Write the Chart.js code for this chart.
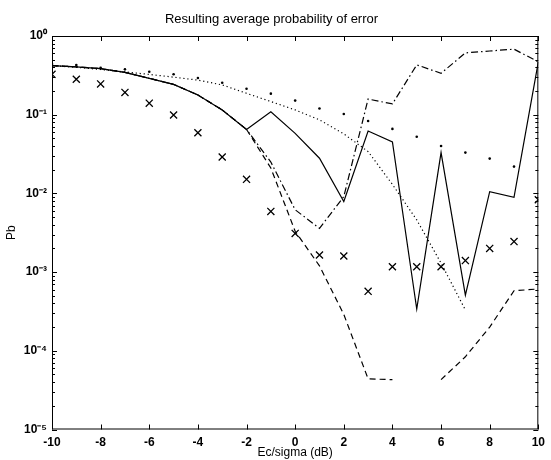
<!DOCTYPE html>
<html><head><meta charset="utf-8">
<script src="https://cdn.jsdelivr.net/npm/chart.js@4.4.0/dist/chart.umd.min.js"></script>
<style>html,body{margin:0;padding:0;background:#fff}</style>
</head><body>
<canvas id="c" width="551" height="460"></canvas>
<script>
// ---- data ----
const xValues = [-10,-9,-8,-7,-6,-5,-4,-3,-2,-1,0,1,2,3,4,5,6,7,8,9,10];
const solidSeries = [0.42,0.405,0.385,0.345,0.29,0.243,0.178,0.115,0.065,0.109,0.058,0.028,0.0079,0.062,0.045,3.4e-4,0.033,5.1e-4,0.0105,0.0089,0.47];
const dashedSeries = [0.42,0.405,0.385,0.345,0.29,0.243,0.178,0.115,0.065,0.021,0.0033,0.0012,2.9e-4,4.4e-5,4.3e-5,null,4.3e-5,8.4e-5,2.0e-4,5.8e-4,6.1e-4];
const dashDotSeries = [0.42,0.405,0.385,0.345,0.29,0.243,0.178,0.115,0.065,0.025,0.0062,0.0036,0.0091,0.158,0.137,0.43,0.336,0.61,0.645,0.68,0.47];
const dottedSeries = [0.42,0.40,0.375,0.35,0.325,0.30,0.275,0.239,0.187,0.147,0.115,0.086,0.057,0.034,0.013,0.0046,0.0013,3.3e-4,null,null,null];
const dotMarkers = [0.44,0.428,0.395,0.377,0.352,0.326,0.292,0.255,0.214,0.185,0.151,0.12,0.102,0.083,0.066,0.0525,0.040,0.033,0.0277,0.0219,null];
const crossMarkers = [0.326,0.282,0.246,0.192,0.14,0.099,0.059,0.029,0.0151,0.0059,0.0031,0.00165,0.0016,5.7e-4,0.00117,0.00117,0.00117,0.0014,0.002,0.00244,0.0083];
const xTickValues = [-10,-8,-6,-4,-2,0,2,4,6,8,10];
const yTickValues = [1e-5,1e-4,1e-3,1e-2,1e-1,1];
const yTickLabels = ['10\u207B\u2075','10\u207B\u2074','10\u207B\u00B3','10\u207B\u00B2','10\u207B\u00B9','10\u2070'];
const titleText = 'Resulting average probability of error';
const xTitle = 'Ec/sigma (dB)';
const yTitle = 'Pb';

const pts = arr => xValues.map((x,i) => ({x, y: arr[i]}));

const framePlugin = {
  id: 'frame',
  afterDatasetsDraw(chart) {
    const {ctx, chartArea: a, scales: {x, y}} = chart;
    ctx.save();
    ctx.strokeStyle = '#000';
    ctx.lineWidth = 1;
    ctx.strokeRect(a.left + 0.5, a.top + 0.5, a.right - a.left - 1, a.bottom - a.top - 1);
    ctx.beginPath();
    xTickValues.forEach(v => {
      const p = Math.round(x.getPixelForValue(v)) + 0.5;
      ctx.moveTo(p, a.bottom); ctx.lineTo(p, a.bottom - 5);
      ctx.moveTo(p, a.top); ctx.lineTo(p, a.top + 5);
    });
    yTickValues.forEach((v, k) => {
      const p = Math.round(y.getPixelForValue(v)) + 0.5;
      ctx.moveTo(a.left, p); ctx.lineTo(a.left + 5, p);
      ctx.moveTo(a.right, p); ctx.lineTo(a.right - 5, p);
      if (k < yTickValues.length - 1) {
        for (let m = 2; m <= 9; m++) {
          const q = Math.round(y.getPixelForValue(v * m)) + 0.5;
          ctx.moveTo(a.left, q); ctx.lineTo(a.left + 3, q);
          ctx.moveTo(a.right, q); ctx.lineTo(a.right - 3, q);
        }
      }
    });
    ctx.stroke();
    ctx.restore();
  }
};

const lineBase = {borderColor: '#000', backgroundColor: '#000', borderWidth: 1.2, pointRadius: 0, tension: 0, fill: false, spanGaps: false};

new Chart(document.getElementById('c'), {
  type: 'line',
  data: {
    datasets: [
      Object.assign({label: 'dashed', data: pts(dashedSeries), borderDash: [6, 4]}, lineBase),
      Object.assign({label: 'dashdot', data: pts(dashDotSeries), borderDash: [7, 3, 1.5, 3]}, lineBase),
      Object.assign({label: 'dotted', data: pts(dottedSeries), borderDash: [1.2, 2.8]}, lineBase),
      Object.assign({label: 'solid', data: pts(solidSeries)}, lineBase),
      {label: 'dots', data: pts(dotMarkers), showLine: false, pointStyle: 'circle', pointRadius: 1.3, borderWidth: 0, backgroundColor: '#000', borderColor: '#000'},
      {label: 'crosses', data: pts(crossMarkers), showLine: false, pointStyle: 'crossRot', pointRadius: 5, borderWidth: 1.3, borderColor: '#000', backgroundColor: '#000'}
    ]
  },
  options: {
    responsive: false,
    devicePixelRatio: 1,
    animation: false,
    layout: {padding: {left: 0, right: 8, top: 0, bottom: 0}},
    plugins: {
      legend: {display: false},
      tooltip: {enabled: false},
      title: {display: true, text: titleText, color: '#000', font: {family: 'Liberation Sans', size: 13, weight: 'normal'}, padding: {top: 12, bottom: 8.4}}
    },
    scales: {
      x: {
        type: 'linear', min: -10, max: 10,
        afterBuildTicks: s => { s.ticks = xTickValues.map(v => ({value: v})); },
        afterFit: s => { s.height = 30.5; },
        grid: {display: false, drawTicks: false},
        border: {display: false},
        ticks: {color: '#000', padding: 6, maxRotation: 0, autoSkip: false, font: {family: 'Liberation Sans', size: 12, weight: 'bold'}},
        title: {display: true, text: xTitle, color: '#000', font: {family: 'Liberation Sans', size: 12}, padding: {top: 0, bottom: 0}}
      },
      y: {
        type: 'logarithmic', min: 1e-5, max: 1,
        afterBuildTicks: s => { s.ticks = yTickValues.map(v => ({value: v})); },
        afterFit: s => { s.width = 52; },
        grid: {display: false, drawTicks: false},
        border: {display: false},
        ticks: {color: '#000', padding: 5, autoSkip: false, font: {family: 'Liberation Sans', size: 12, weight: 'bold'},
          callback: (v) => { const i = yTickValues.findIndex(t => Math.abs(Math.log10(t) - Math.log10(v)) < 1e-6); return i >= 0 ? yTickLabels[i] : ''; }},
        title: {display: true, text: yTitle, color: '#000', font: {family: 'Liberation Sans', size: 12}, padding: {top: 4, bottom: 0}}
      }
    }
  },
  plugins: [framePlugin]
});
</script>
</body></html>
